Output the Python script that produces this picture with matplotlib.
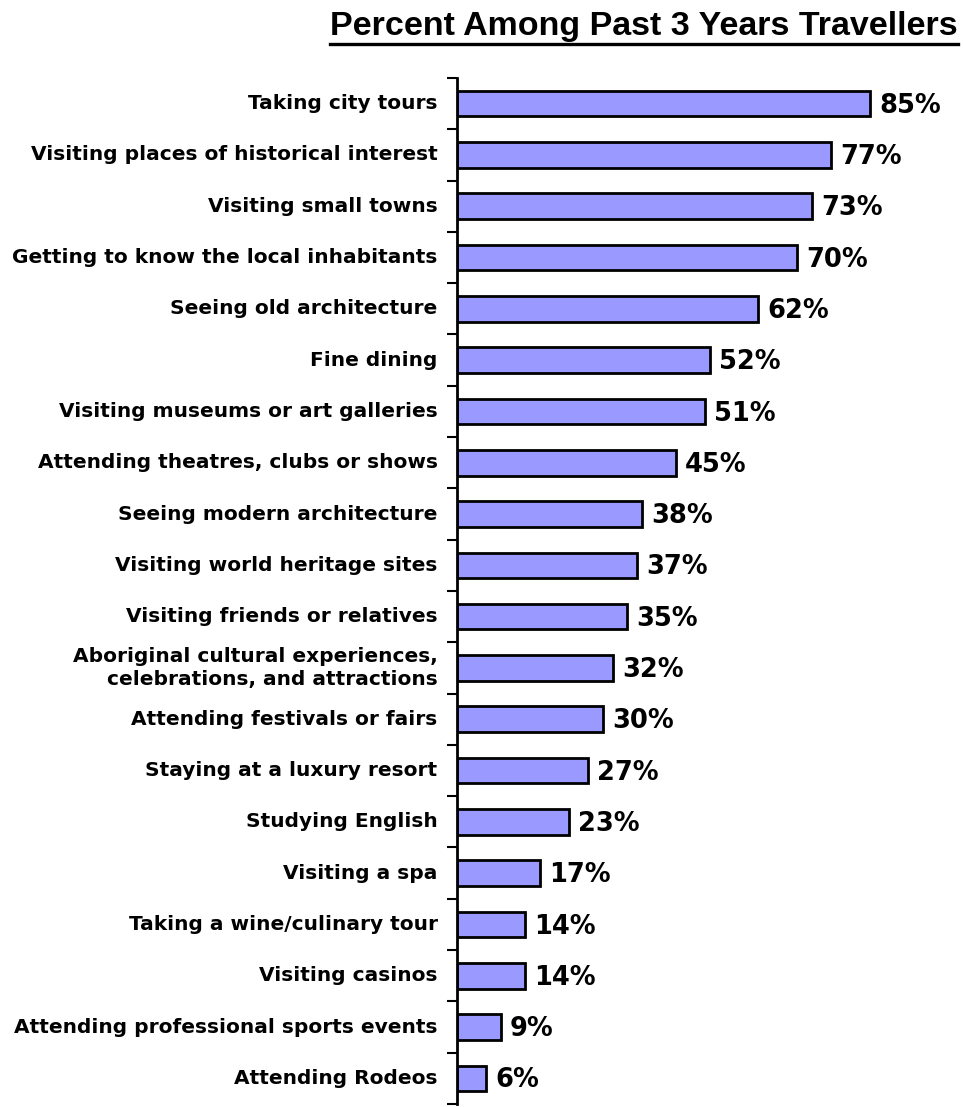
import numpy as np
import matplotlib
matplotlib.use("Agg")
import matplotlib.pyplot as plt
from matplotlib.lines import Line2D

# Activities ranked by share of past-3-year travellers
activities = [
    "Taking city tours",
    "Visiting places of historical interest",
    "Visiting small towns",
    "Getting to know the local inhabitants",
    "Seeing old architecture",
    "Fine dining",
    "Visiting museums or art galleries",
    "Attending theatres, clubs or shows",
    "Seeing modern architecture",
    "Visiting world heritage sites",
    "Visiting friends or relatives",
    "Aboriginal cultural experiences,\ncelebrations, and attractions",
    "Attending festivals or fairs",
    "Staying at a luxury resort",
    "Studying English",
    "Visiting a spa",
    "Taking a wine/culinary tour",
    "Visiting casinos",
    "Attending professional sports events",
    "Attending Rodeos",
]
percents = [85, 77, 73, 70, 62, 52, 51, 45, 38, 37, 35, 32, 30, 27, 23, 17, 14, 14, 9, 6]
title = "Percent Among Past 3 Years Travellers"

W, H = 963, 1107
fig = plt.figure(figsize=(W / 100, H / 100), dpi=100)
ax = fig.add_axes([457 / W, 1 - 1104 / H, 1 - 457 / W, (1104 - 78) / H])

y = np.arange(len(activities))
ax.barh(y, percents, height=0.5, color="#9999ff", edgecolor="black", linewidth=2)
ax.set_ylim(len(activities) - 0.5, -0.5)
ax.set_xlim(0, (W - 457) / 4.86)

for yi, v in zip(y, percents):
    ax.text(v + 1.9, yi + 0.04, f"{v}%", va="center", ha="left",
            fontsize=18.5, fontweight="bold")

# category names sit in the slots, ticks fall between slots
ax.set_yticks(np.arange(len(activities) + 1) - 0.5)
ax.set_yticklabels([])
ax.tick_params(axis="y", length=7, width=1.5, direction="out")
for yi, lab in zip(y, activities):
    ax.text(-4.0, yi, lab, ha="right", va="center", fontsize=14.5,
            fontweight="bold", linespacing=1.25, transform=ax.transData)

for s in ["top", "right", "bottom"]:
    ax.spines[s].set_visible(False)
ax.spines["left"].set_linewidth(2)
ax.set_xticks([])

t = fig.text(958 / W, 1 - 35 / H, title, ha="right", va="baseline",
             fontsize=24.5, fontweight="bold", family="Liberation Sans")
fig.canvas.draw()
bb = t.get_window_extent()
uy = H - 44
fig.add_artist(Line2D([bb.x0 / W, bb.x1 / W], [uy / H, uy / H],
                      color="black", linewidth=2.4, transform=fig.transFigure))

fig.savefig("out.png", dpi=100)
